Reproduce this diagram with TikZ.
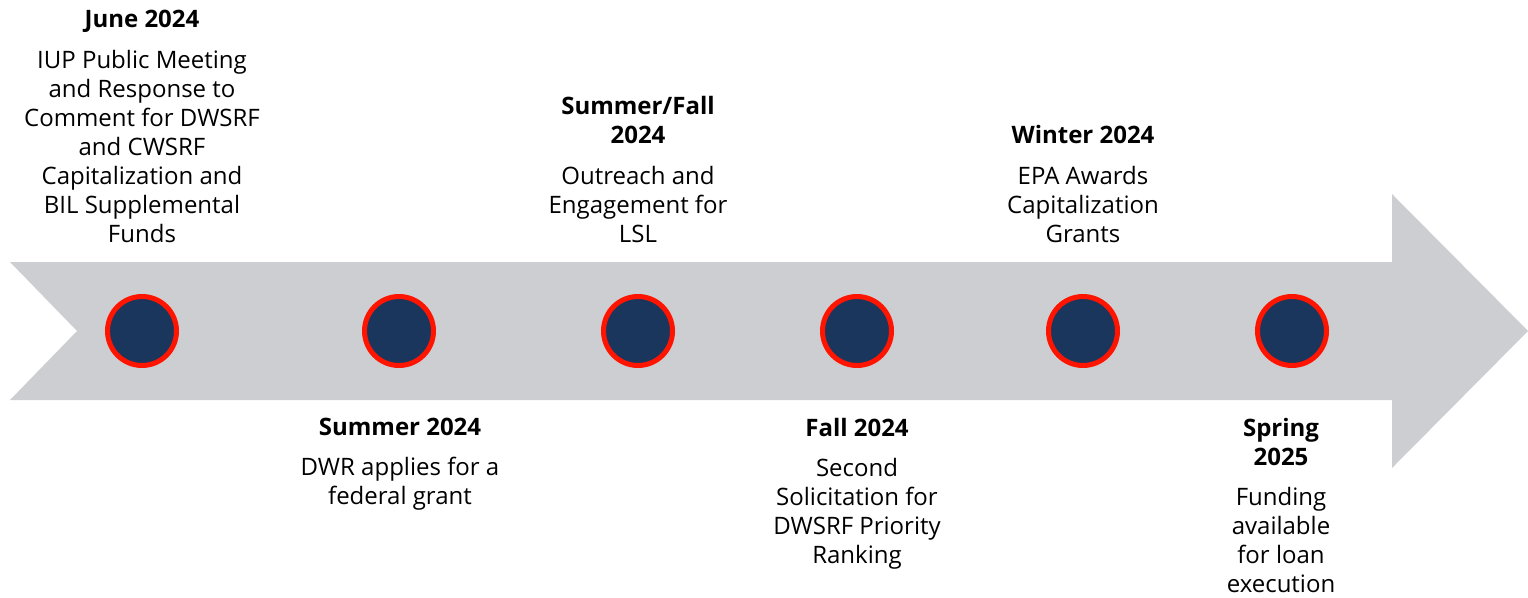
\documentclass[tikz,border=0pt]{standalone}
\usepackage{fontspec}
\setmainfont{Open Sans}
\definecolor{arrowgray}{HTML}{CDCED2}
\definecolor{dotnavy}{HTML}{1B365D}
\definecolor{dotred}{HTML}{FF1400}

\begin{document}
\begin{tikzpicture}[x=1pt, y=-1pt,
    dot/.style={circle, fill=dotnavy, draw=dotred, line width=5pt, minimum size=69pt, inner sep=0pt},
    evtext/.style={align=center, inner sep=0pt, font=\fontsize{24}{29}\selectfont}]
\useasboundingbox (0,0) rectangle (1528,597);

    % the big arrow
    \fill[arrowgray] (10,262) -- (1392,262) -- (1392,194) -- (1528,331)
        -- (1392,468) -- (1392,400) -- (10,400) -- (77,331) -- cycle;

    % milestones
    \node[dot] (d1) at (142,331) {};
    \node[dot] (d2) at (399,331) {};
    \node[dot] (d3) at (638,331) {};
    \node[dot] (d4) at (857,331) {};
    \node[dot] (d5) at (1083,331) {};
    \node[dot] (d6) at (1292,331) {};

    % texts above
    \node[evtext, anchor=south] (t1) at (142,243) {\textbf{June 2024}\\[12pt]
        IUP Public Meeting\\ and Response to\\ Comment for DWSRF\\ and CWSRF\\
        Capitalization and\\ BIL Supplemental\\ Funds};
    \node[evtext, anchor=south] (t3) at (638,243) {\textbf{Summer/Fall}\\ \textbf{2024}\\[12pt]
        Outreach and\\ Engagement for\\ LSL};
    \node[evtext, anchor=south] (t5) at (1083,243) {\textbf{Winter 2024}\\[12pt]
        EPA Awards\\ Capitalization\\ Grants};

    % texts below
    \node[evtext, anchor=north] (t2) at (400,418) {\textbf{Summer 2024}\\[11pt]
        DWR applies for a\\ federal grant};
    \node[evtext, anchor=north] (t4) at (857,418) {\textbf{Fall 2024}\\[11pt]
        Second\\ Solicitation for\\ DWSRF Priority\\ Ranking};
    \node[evtext, anchor=north] (t6) at (1281,418) {\textbf{Spring}\\ \textbf{2025}\\[11pt]
        Funding\\ available\\ for loan\\ execution};

\end{tikzpicture}
\end{document}
